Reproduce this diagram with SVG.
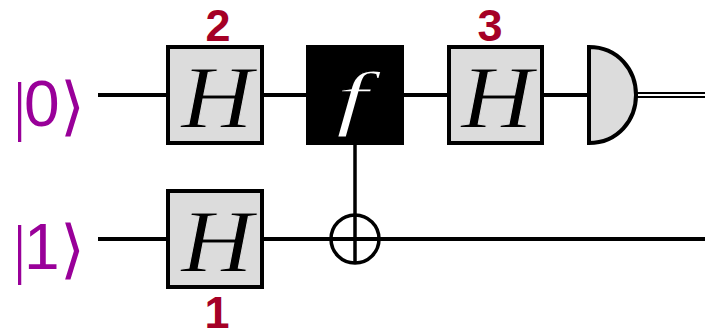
<svg xmlns="http://www.w3.org/2000/svg" width="705" height="330" viewBox="0 0 705 330">
<style>
.w{stroke:#000;stroke-width:4;fill:none}
.b{fill:#dcdcdc;stroke:#000;stroke-width:4}
.h{font-family:"Liberation Serif",serif;font-style:italic;font-size:88px;fill:#000;text-anchor:middle;stroke:#dcdcdc;stroke-width:1}
.k{font-family:"Liberation Sans",sans-serif;font-size:64px;fill:#990099}
.kb{font-family:"Liberation Serif",serif;font-size:66px}
.kc{font-family:"Noto Sans CJK SC",sans-serif;font-size:64px}
.n{font-family:"Liberation Sans",sans-serif;font-weight:bold;font-size:45px;fill:#a50026;text-anchor:middle}
</style>
<rect width="705" height="330" fill="#fff"/>
<g id="connectors">
<path class="w" d="M98 95H168M262 95H308M401 95H449M542 95H590"/>
<path d="M637 93H705M637 97H705" stroke="#000" stroke-width="2.2" fill="none"/>
<path class="w" d="M98 239H168M262 239H705"/>
<path d="M355 145V264" stroke="#000" stroke-width="3.5" fill="none"/>
</g>
<g id="ket0"><text class="k"><tspan class="kb" x="13" y="128">|</tspan><tspan x="24" y="126">0</tspan><tspan class="kc" x="60" y="128">⟩</tspan></text></g>
<g id="ket1"><text class="k"><tspan class="kb" x="13" y="271">|</tspan><tspan x="24" y="269">1</tspan><tspan class="kc" x="60" y="271">⟩</tspan></text></g>
<g id="h2"><rect class="b" x="168" y="47" width="94" height="96"/><text class="h" x="217" y="127" textLength="72" lengthAdjust="spacingAndGlyphs">H</text><text class="n" x="218" y="41">2</text></g>
<g id="oracle"><rect x="306" y="45" width="98" height="100" fill="#000"/><text x="352" y="122" font-family="Liberation Serif, serif" font-style="italic" font-size="71" fill="#fff" stroke="#000" stroke-width="1.2" text-anchor="middle" textLength="32" lengthAdjust="spacingAndGlyphs">f</text></g>
<g id="h3"><rect class="b" x="449" y="47" width="93" height="96"/><text class="h" x="497" y="127" textLength="72" lengthAdjust="spacingAndGlyphs">H</text><text class="n" x="490" y="41">3</text></g>
<g id="meter"><path d="M589 47C618 47 636 70 636 95C636 120 618 143 589 143Z" fill="#dcdcdc" stroke="#000" stroke-width="4"/></g>
<g id="h1"><rect class="b" x="168" y="191" width="94" height="96"/><text class="h" x="217" y="271" textLength="72" lengthAdjust="spacingAndGlyphs">H</text><text class="n" x="217" y="328">1</text></g>
<g id="cnot"><circle cx="355" cy="239" r="24" fill="none" stroke="#000" stroke-width="3.5"/></g>
</svg>
